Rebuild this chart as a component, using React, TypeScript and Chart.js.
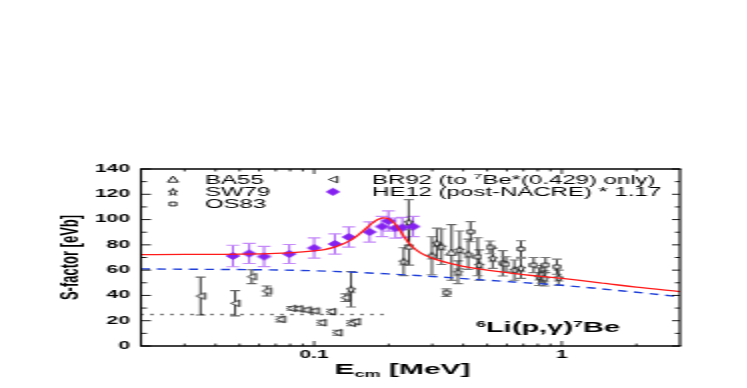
import React, { useEffect, useRef } from 'react';
import { Chart, registerables } from 'chart.js';

Chart.register(...registerables);

// ---------- layout constants (canvas is drawn narrow and stretched horizontally) ----------
const STRETCH = 2;
const CANVAS_W = 374;
const CANVAS_H = 388;
const FONT = "'Liberation Sans', Arial, Helvetica, sans-serif";

// ---------- axes ----------
const X_MIN = 0.02;
const X_MAX = 3;
const Y_MIN = 0;
const Y_MAX = 140;
const Y_STEP = 20;
const xTickValues = [0.03, 0.04, 0.05, 0.06, 0.07, 0.08, 0.09, 0.1, 0.2, 0.3, 0.4, 0.5, 0.6, 0.7, 0.8, 0.9, 1, 2];
const xLabelValues = [0.1, 1];
const yTickValues = [0, 10, 20, 30, 40, 50, 60, 70, 80, 90, 100, 110, 120, 130, 140];
const xTitleMain = 'E';
const xTitleSub = 'cm';
const xTitleUnit = ' [MeV]';
const yTitle = 'S-factor [eVb]';

// ---------- curves ----------
const fitE = [0.02, 0.03, 0.05, 0.07, 0.09, 0.1, 0.11, 0.12, 0.13, 0.14, 0.15, 0.16, 0.17, 0.18, 0.19, 0.2, 0.21, 0.22, 0.23, 0.24, 0.25, 0.27, 0.3, 0.35, 0.4, 0.5, 0.7, 1.0, 1.5, 2.0, 3.0];
const fitS = [72.2, 72.4, 72.7, 73.3, 74.5, 75.3, 76.3, 78, 80.5, 83.5, 87.5, 92, 96.5, 99.8, 101.3, 100.6, 97.5, 92.5, 87, 82, 78.3, 73.5, 69.5, 65.5, 63, 60, 56.5, 53.5, 49.5, 46.5, 43];
const nacreE = [0.02, 0.1, 0.2, 0.3, 0.5, 1, 2, 3];
const nacreS = [61, 59.5, 57, 55, 52, 48, 42.5, 39];
const levelE = [0.02, 0.2];
const levelS = [25, 25];

// ---------- data sets ----------
const he12E = [0.047, 0.0547, 0.0628, 0.0794, 0.1, 0.1213, 0.138, 0.1675, 0.188, 0.1995, 0.213, 0.227, 0.251];
const he12S = [71.2, 73.2, 70.8, 72.8, 77.5, 80.7, 86.2, 90.2, 94.5, 98.9, 93.3, 93.7, 94.5];
const he12Err = [8.5, 8, 8, 7.5, 8, 8, 8, 8, 8, 8, 8, 8, 8];

const br92E = [0.0348, 0.048, 0.056, 0.0643, 0.073, 0.081, 0.086, 0.093, 0.1, 0.107, 0.117, 0.124, 0.134, 0.141, 0.147];
const br92S = [39.5, 33.8, 54.8, 43.5, 21.1, 29.8, 29.5, 28.5, 27.7, 18.4, 27.1, 10.5, 38.2, 18, 19.2];
const br92Err = [15, 10, 5.5, 4, 2, 1.5, 1.5, 1.5, 1.5, 2, 2, 2, 3, 2, 2];

const sw79E = [0.141, 0.23, 0.241, 0.299, 0.313, 0.327, 0.381, 0.387, 0.419, 0.465, 0.526, 0.643, 0.684, 0.81, 0.83, 0.85, 0.97];
const sw79S = [44.8, 66.7, 97.8, 71.4, 81.2, 78.5, 58.3, 76, 72.5, 64, 69.4, 60, 61.5, 54.8, 56.7, 53.5, 54];
const sw79Err = [14, 11, 18, 15, 12, 14, 9, 15, 12, 12, 8, 8, 8, 7, 7, 6, 6];

const os83E = [0.242, 0.342, 0.428, 0.458, 0.513, 0.577, 0.595, 0.684, 0.77, 0.86, 0.955];
const os83S = [78, 42.2, 90.4, 70.6, 78, 65.4, 64.6, 76.7, 64, 64, 62.7];
const os83Err = [14, 3, 8, 15, 5, 10, 6, 6.5, 6, 6, 6];

const ba55E = [0.359];
const ba55S = [74];
const ba55Err = [22];

// ---------- legend / annotation text ----------
const legendCol1 = ['BA55', 'SW79', 'OS83'];
const legendBR92 = ['BR92 (to ', '7', 'Be*(0.429) only)'];
const legendHE12 = 'HE12 (post-NACRE) * 1.17';
const reaction = ['6', 'Li(p,\u03b3)', '7', 'Be'];

// ---------- colours ----------
const VIOLET = '#8420f0';
const VIOLET_BAR = '#9b3df5';
const VIOLET_CAP = '#c58af8';
const RED = '#ff1a1a';
const BLUE = '#1f3fd8';

type Kind = 'diamond' | 'triUp' | 'triLeft' | 'square' | 'star';

function markerCanvas(kind: Kind): HTMLCanvasElement {
  const sizes: Record<Kind, [number, number]> = {
    diamond: [9, 10],
    triUp: [7, 9],
    triLeft: [7, 9],
    square: [5, 6],
    star: [7, 10],
  };
  const [w, h] = sizes[kind];
  const c = document.createElement('canvas');
  c.width = w;
  c.height = h;
  const g = c.getContext('2d')!;
  const cx = w / 2;
  const cy = h / 2;
  g.lineWidth = 0.9;
  g.strokeStyle = '#111';
  g.fillStyle = '#fff';
  g.beginPath();
  if (kind === 'diamond') {
    g.moveTo(cx - 3.7, cy);
    g.lineTo(cx, cy - 4);
    g.lineTo(cx + 3.7, cy);
    g.lineTo(cx, cy + 4);
    g.closePath();
    g.fillStyle = VIOLET;
    g.fill();
    return c;
  }
  if (kind === 'triUp') {
    g.moveTo(cx, cy - 3.3);
    g.lineTo(cx + 2.6, cy + 2.7);
    g.lineTo(cx - 2.6, cy + 2.7);
    g.closePath();
  } else if (kind === 'triLeft') {
    g.moveTo(cx - 2.2, cy);
    g.lineTo(cx + 2.2, cy - 3.3);
    g.lineTo(cx + 2.2, cy + 3.3);
    g.closePath();
  } else if (kind === 'square') {
    g.rect(cx - 1.6, cy - 1.9, 3.2, 3.8);
  } else {
    for (let k = 0; k < 10; k++) {
      const ang = -Math.PI / 2 + (k * Math.PI) / 5;
      const r = k % 2 === 0 ? 3.8 : 1.6;
      const px = cx + r * Math.cos(ang) * 0.62;
      const py = cy + 0.4 + r * Math.sin(ang);
      if (k === 0) g.moveTo(px, py);
      else g.lineTo(px, py);
    }
    g.closePath();
  }
  g.fill();
  g.stroke();
  return c;
}

const zip = (xs: number[], ys: number[]) => xs.map((x, i) => ({ x, y: ys[i] }));

const errorBarPlugin = {
  id: 'errorBars',
  beforeDatasetsDraw(chart: any) {
    const { ctx, chartArea: a, scales } = chart;
    const x = scales.x;
    const y = scales.y;
    ctx.save();
    ctx.beginPath();
    ctx.rect(a.left, a.top, a.right - a.left, a.bottom - a.top);
    ctx.clip();
    chart.data.datasets.forEach((ds: any) => {
      if (!ds.errors) return;
      ds.data.forEach((p: any, j: number) => {
        const e = ds.errors[j];
        const px = x.getPixelForValue(p.x);
        const yt = y.getPixelForValue(p.y + e);
        const yb = y.getPixelForValue(p.y - e);
        ctx.strokeStyle = ds.errorColor;
        ctx.lineWidth = 0.85;
        ctx.beginPath();
        ctx.moveTo(px, yt);
        ctx.lineTo(px, yb);
        ctx.stroke();
        ctx.strokeStyle = ds.capColor;
        ctx.lineWidth = 1.1;
        ctx.beginPath();
        ctx.moveTo(px - ds.capHalf, yt);
        ctx.lineTo(px + ds.capHalf, yt);
        ctx.moveTo(px - ds.capHalf, yb);
        ctx.lineTo(px + ds.capHalf, yb);
        ctx.stroke();
      });
    });
    ctx.restore();
  },
};

const framePlugin = {
  id: 'frame',
  afterDatasetsDraw(chart: any) {
    const { ctx, chartArea: a, scales } = chart;
    const x = scales.x;
    const y = scales.y;
    ctx.save();
    ctx.strokeStyle = '#000';
    const line = (x1: number, y1: number, x2: number, y2: number) => {
      ctx.beginPath();
      ctx.moveTo(x1, y1);
      ctx.lineTo(x2, y2);
      ctx.stroke();
    };
    yTickValues.forEach((v) => {
      const py = y.getPixelForValue(v);
      const major = v % Y_STEP === 0;
      ctx.lineWidth = 0.9;
      line(a.left, py, a.left + (major ? 5 : 3), py);
      line(a.right, py, a.right - (major ? 4 : 2.5), py);
    });
    xTickValues.forEach((v) => {
      const px = x.getPixelForValue(v);
      const major = xLabelValues.includes(v);
      ctx.lineWidth = 0.8;
      line(px, a.bottom, px, a.bottom - (major ? 5 : 2.5));
      line(px, a.top, px, a.top + (major ? 5 : 2.5));
    });
    ctx.lineWidth = 1.7;
    line(a.left - 0.5, a.top, a.right + 0.5, a.top);
    line(a.left - 0.5, a.bottom, a.right + 0.5, a.bottom);
    ctx.lineWidth = 1.1;
    line(a.left, a.top, a.left, a.bottom);
    line(a.right, a.top, a.right, a.bottom);
    ctx.restore();
  },
};

type Run = { t: string; font: string; dy?: number };

function drawRuns(ctx: CanvasRenderingContext2D, x: number, base: number, runs: Run[], center = false) {
  let total = 0;
  runs.forEach((r) => {
    ctx.font = r.font;
    total += ctx.measureText(r.t).width;
  });
  let cx = center ? x - total / 2 : x;
  runs.forEach((r) => {
    ctx.font = r.font;
    ctx.fillText(r.t, cx, base + (r.dy || 0));
    cx += ctx.measureText(r.t).width;
  });
}

const markers: Record<Kind, HTMLCanvasElement> | null =
  typeof document !== 'undefined'
    ? {
        diamond: markerCanvas('diamond'),
        triUp: markerCanvas('triUp'),
        triLeft: markerCanvas('triLeft'),
        square: markerCanvas('square'),
        star: markerCanvas('star'),
      }
    : null;

const textPlugin = {
  id: 'texts',
  afterDraw(chart: any) {
    const ctx: CanvasRenderingContext2D = chart.ctx;
    const a = chart.chartArea;
    const m = markers!;
    ctx.save();
    ctx.fillStyle = '#000';
    ctx.textBaseline = 'alphabetic';
    ctx.textAlign = 'left';
    const rows = [179.5, 191.8, 204];
    const legFont = `12px ${FONT}`;
    const supFont = `8px ${FONT}`;
    const col1Markers = [m.triUp, m.star, m.square];
    legendCol1.forEach((t, i) => {
      const img = col1Markers[i];
      ctx.drawImage(img, 86.5 - img.width / 2, rows[i] - img.height / 2);
      ctx.font = legFont;
      ctx.fillText(t, 102.5, rows[i] + 4.3);
    });
    ctx.drawImage(m.triLeft, 166.5 - m.triLeft.width / 2, rows[0] - m.triLeft.height / 2);
    drawRuns(ctx, 186, rows[0] + 4.3, [
      { t: legendBR92[0], font: legFont },
      { t: legendBR92[1], font: supFont, dy: -4.5 },
      { t: legendBR92[2], font: legFont },
    ]);
    ctx.drawImage(m.diamond, 166.5 - m.diamond.width / 2, rows[1] - m.diamond.height / 2);
    ctx.font = legFont;
    ctx.fillText(legendHE12, 186, rows[1] + 4.3);

    // reaction label
    const rFont = `bold 14.5px ${FONT}`;
    const rSup = `bold 9px ${FONT}`;
    drawRuns(ctx, 238, 332, [
      { t: reaction[0], font: rSup, dy: -5 },
      { t: reaction[1], font: rFont },
      { t: reaction[2], font: rSup, dy: -5 },
      { t: reaction[3], font: rFont },
    ]);

    // x axis title
    drawRuns(ctx, (a.left + a.right) / 2 - 4, 374, [
      { t: xTitleMain, font: `bold 15px ${FONT}` },
      { t: xTitleSub, font: `bold 9px ${FONT}`, dy: 3 },
      { t: xTitleUnit, font: `bold 15px ${FONT}` },
    ], true);
    ctx.restore();
  },
};

export default function App() {
  const ref = useRef<HTMLCanvasElement>(null);

  useEffect(() => {
    if (!ref.current || !markers) return;
    const tickFont = { family: FONT, weight: 'bold' as const, size: 10.5 };
    const lineBase = { showLine: true, pointRadius: 0, fill: false };
    const chart = new Chart(ref.current, {
      type: 'scatter',
      data: {
        datasets: [
          { ...lineBase, label: 'fit', data: zip(fitE, fitS), borderColor: RED, borderWidth: 1.3, cubicInterpolationMode: 'monotone' } as any,
          { ...lineBase, label: 'NACRE', data: zip(nacreE, nacreS), borderColor: BLUE, borderWidth: 1.4, borderDash: [4.5, 3.5], cubicInterpolationMode: 'monotone' } as any,
          { ...lineBase, label: 'level', data: zip(levelE, levelS), borderColor: '#000', borderWidth: 1.5, borderDash: [1, 4] } as any,
          { label: 'HE12', data: zip(he12E, he12S), pointStyle: markers.diamond, pointRadius: 4, errors: he12Err, errorColor: VIOLET_BAR, capColor: VIOLET_CAP, capHalf: 3.2 } as any,
          { label: 'BA55', data: zip(ba55E, ba55S), pointStyle: markers.triUp, pointRadius: 3, errors: ba55Err, errorColor: '#111', capColor: '#666', capHalf: 2.5 } as any,
          { label: 'SW79', data: zip(sw79E, sw79S), pointStyle: markers.star, pointRadius: 3, errors: sw79Err, errorColor: '#222', capColor: '#777', capHalf: 2.5 } as any,
          { label: 'OS83', data: zip(os83E, os83S), pointStyle: markers.square, pointRadius: 3, errors: os83Err, errorColor: '#111', capColor: '#777', capHalf: 2.5 } as any,
          { label: 'BR92', data: zip(br92E, br92S), pointStyle: markers.triLeft, pointRadius: 3, errors: br92Err, errorColor: '#111', capColor: '#666', capHalf: 2.5 } as any,
        ],
      },
      options: {
        animation: false,
        responsive: false,
        devicePixelRatio: 1,
        events: [],
        layout: { autoPadding: false, padding: { left: 23.3, right: 34, top: 169, bottom: 22 } } as any,
        plugins: { legend: { display: false }, tooltip: { enabled: false }, title: { display: false } },
        scales: {
          x: {
            type: 'logarithmic',
            min: X_MIN,
            max: X_MAX,
            grid: { display: false, drawTicks: false },
            border: { display: false },
            afterBuildTicks: (s: any) => {
              s.ticks = xTickValues.map((v) => ({ value: v }));
            },
            afterFit: (s: any) => {
              s.height = 20;
            },
            ticks: {
              autoSkip: false,
              maxRotation: 0,
              padding: 3,
              color: '#000',
              font: tickFont,
              callback: (v: any) => (xLabelValues.includes(Number(v)) ? String(v) : ''),
            },
          },
          y: {
            type: 'linear',
            min: Y_MIN,
            max: Y_MAX,
            grid: { display: false, drawTicks: false },
            border: { display: false },
            afterFit: (s: any) => {
              s.width = 47.2;
            },
            ticks: { stepSize: Y_STEP, padding: 5.5, color: '#000', font: tickFont },
            title: {
              display: true,
              text: yTitle,
              color: '#000',
              font: { family: FONT, weight: 'bold', size: 13 },
              padding: { top: 4, bottom: 0 },
            },
          },
        },
      } as any,
      plugins: [errorBarPlugin, framePlugin, textPlugin],
    });
    return () => chart.destroy();
  }, []);

  return (
    <div
      style={{
        position: 'fixed',
        left: 0,
        top: 0,
        width: CANVAS_W,
        height: CANVAS_H,
        background: '#fff',
        transform: `scaleX(${STRETCH})`,
        transformOrigin: '0 0',
      }}
    >
      <canvas
        ref={ref}
        width={CANVAS_W}
        height={CANVAS_H}
        style={{ display: 'block', width: CANVAS_W, height: CANVAS_H }}
      />
    </div>
  );
}
